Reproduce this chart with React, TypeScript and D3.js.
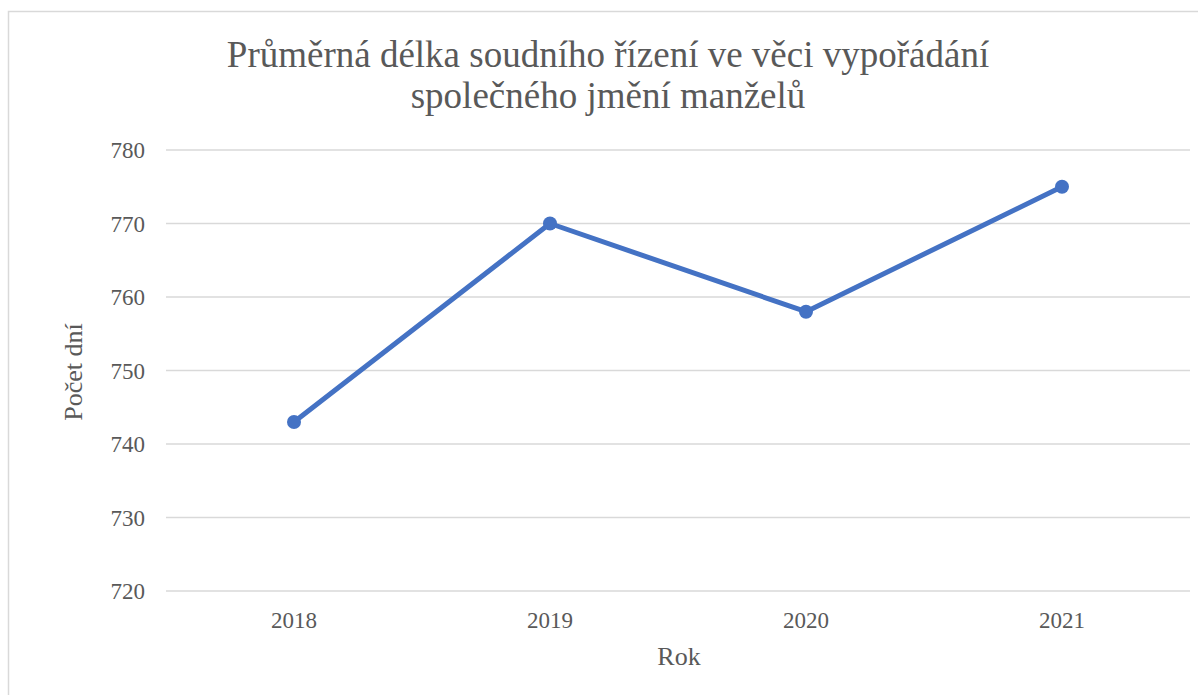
import React from "react";
import * as d3 from "d3";

const years = ["2018", "2019", "2020", "2021"];
const values = [743, 770, 758, 775];
const yTicks = [720, 730, 740, 750, 760, 770, 780];
const titleLines = ["Průměrná délka soudního řízení ve věci vypořádání", "společného jmění manželů"];
const yTitle = "Počet dní";
const xTitle = "Rok";

export default function App() {
  const W = 1198, H = 695;
  const left = 166, right = 1190, top = 150, bottom = 591;
  const x = d3.scaleBand<string>().domain(years).range([left, right]);
  const y = d3.scaleLinear().domain([720, 780]).range([bottom, top]);
  const line = d3.line<number>().x((_, i) => (x(years[i]) as number) + x.bandwidth() / 2).y((d) => y(d));
  const font = "'Liberation Serif', 'Times New Roman', serif";
  return (
    <svg width={W} height={H} style={{ position: "absolute", left: 0, top: 0 }} fontFamily={font}>
      <rect x={8.5} y={11.5} width={1200} height={700} fill="#fff" stroke="#d9d9d9" strokeWidth={1.5} />
      {titleLines.map((t, i) => (
        <text key={i} x={608} y={67 + i * 41} textAnchor="middle" fontSize={37} fill="#595959">{t}</text>
      ))}
      {yTicks.map((t) => (
        <g key={t}>
          <line x1={left} x2={right} y1={y(t)} y2={y(t)} stroke="#d9d9d9" strokeWidth={1.5} />
          <text x={145} y={y(t)} dy="0.35em" textAnchor="end" fontSize={23} fill="#595959">{t}</text>
        </g>
      ))}
      {years.map((yr) => (
        <text key={yr} x={(x(yr) as number) + x.bandwidth() / 2} y={628} textAnchor="middle" fontSize={23} fill="#595959">{yr}</text>
      ))}
      <text x={679} y={665} textAnchor="middle" fontSize={26} fill="#595959">{xTitle}</text>
      <text transform={`translate(82, 372) rotate(-90)`} textAnchor="middle" fontSize={26} fill="#595959">{yTitle}</text>
      <path d={line(values) ?? ""} fill="none" stroke="#4472C4" strokeWidth={5} strokeLinejoin="round" strokeLinecap="round" />
      {values.map((v, i) => (
        <circle key={i} cx={(x(years[i]) as number) + x.bandwidth() / 2} cy={y(v)} r={7} fill="#4472C4" />
      ))}
    </svg>
  );
}
